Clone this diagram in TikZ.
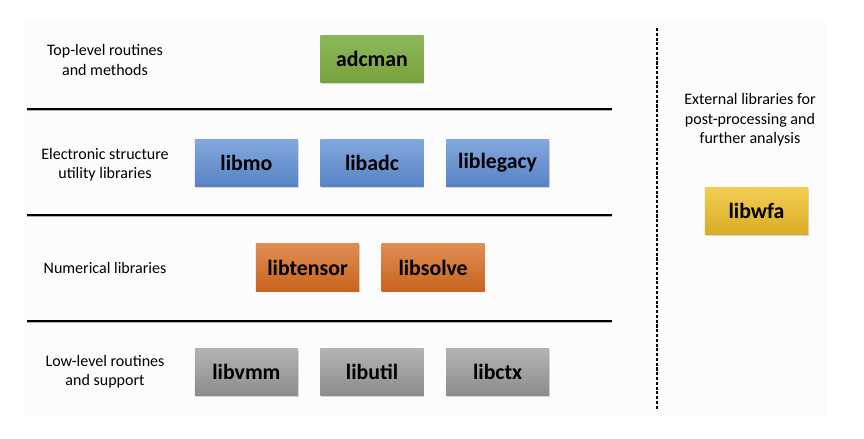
\documentclass[tikz,border=0pt]{standalone}
\usepackage{fontspec}
\setmainfont{Carlito}
\usepackage{tikz}
\usetikzlibrary{positioning}
\usetikzlibrary{shadows}
\usepackage{xcolor}
\definecolor{greentop}{HTML}{8DB85A}
\definecolor{greenbot}{HTML}{76A13B}
\definecolor{bluetop}{HTML}{82A8DD}
\definecolor{bluebot}{HTML}{5882C5}
\definecolor{orangetop}{HTML}{DE8E53}
\definecolor{orangebot}{HTML}{C8631D}
\definecolor{graytop}{HTML}{B3B3B3}
\definecolor{graybot}{HTML}{8C8C8C}
\definecolor{yellowtop}{HTML}{F3CC52}
\definecolor{yellowbot}{HTML}{D8AD25}
\pgfkeys{tikz/libbox/.style={minimum width=2.575cm, minimum height=1.18cm, inner sep=0pt,
    font=\fontsize{15.5}{18}\selectfont\bfseries,
    drop shadow={shadow xshift=0.6pt, shadow yshift=-0.8pt, opacity=0.3}}}
\pgfkeys{tikz/libgreen/.style={libbox, top color=greentop, bottom color=greenbot}}
\pgfkeys{tikz/libblue/.style={libbox, top color=bluetop, bottom color=bluebot}}
\pgfkeys{tikz/liborange/.style={libbox, top color=orangetop, bottom color=orangebot}}
\pgfkeys{tikz/libgray/.style={libbox, top color=graytop, bottom color=graybot}}
\pgfkeys{tikz/libyellow/.style={libbox, top color=yellowtop, bottom color=yellowbot}}
\pgfkeys{tikz/layertext/.style={align=center, font=\fontsize{11.4}{13.8}\selectfont}}
\pgfkeys{tikz/layerline/.style={line width=1.4pt}}
\pgfkeys{tikz/dashbar/.style={line width=1.2pt, dash pattern=on 2.2pt off 1.2pt}}

\begin{document}
\begin{tikzpicture}[x=0.025cm, y=-0.025cm]
	\useasboundingbox (0,0) rectangle (864,439);
	\fill[black!1] (25,21) rectangle (826,417);

	% layer separators
	\foreach \ly in {109,215,321} {
		\draw[black!30, line width=1pt] (27,\ly+1.6) -- (612,\ly+1.6);
		\draw[layerline] (27,\ly) -- (612,\ly);
	}
	\draw[dashbar] (657,28) -- (657,410);

	\node[libgreen] (adcman) at (372,59) {adcman};

	\node[libblue] (libadc) at (372,163) {libadc};
	\node[libblue, left=0.55cm of libadc] (libmo) {libmo};
	\node[libblue, right=0.55cm of libadc] (liblegacy) {liblegacy};

	\node[liborange] (libtensor) at (307.5,267.5) {libtensor};
	\node[liborange, right=0.55cm of libtensor] (libsolve) {libsolve};

	\node[libgray] (libutil) at (372,372) {libutil};
	\node[libgray, left=0.55cm of libutil] (libvmm) {libvmm};
	\node[libgray, right=0.55cm of libutil] (libctx) {libctx};

	\node[libyellow] (libwfa) at (756.5,211) {libwfa};

	\node[layertext] (lbl-top) at (105,60) {Top-level routines\\and methods};
	\node[layertext] (lbl-elec) at (105,165) {Electronic structure\\utility libraries};
	\node[layertext] (lbl-num) at (105,268) {Numerical libraries};
	\node[layertext] (lbl-low) at (105,372) {Low-level routines\\and support};
	\node[layertext] (lbl-ext) at (750,120) {External libraries for\\post-processing and\\further analysis};

\end{tikzpicture}
\end{document}
